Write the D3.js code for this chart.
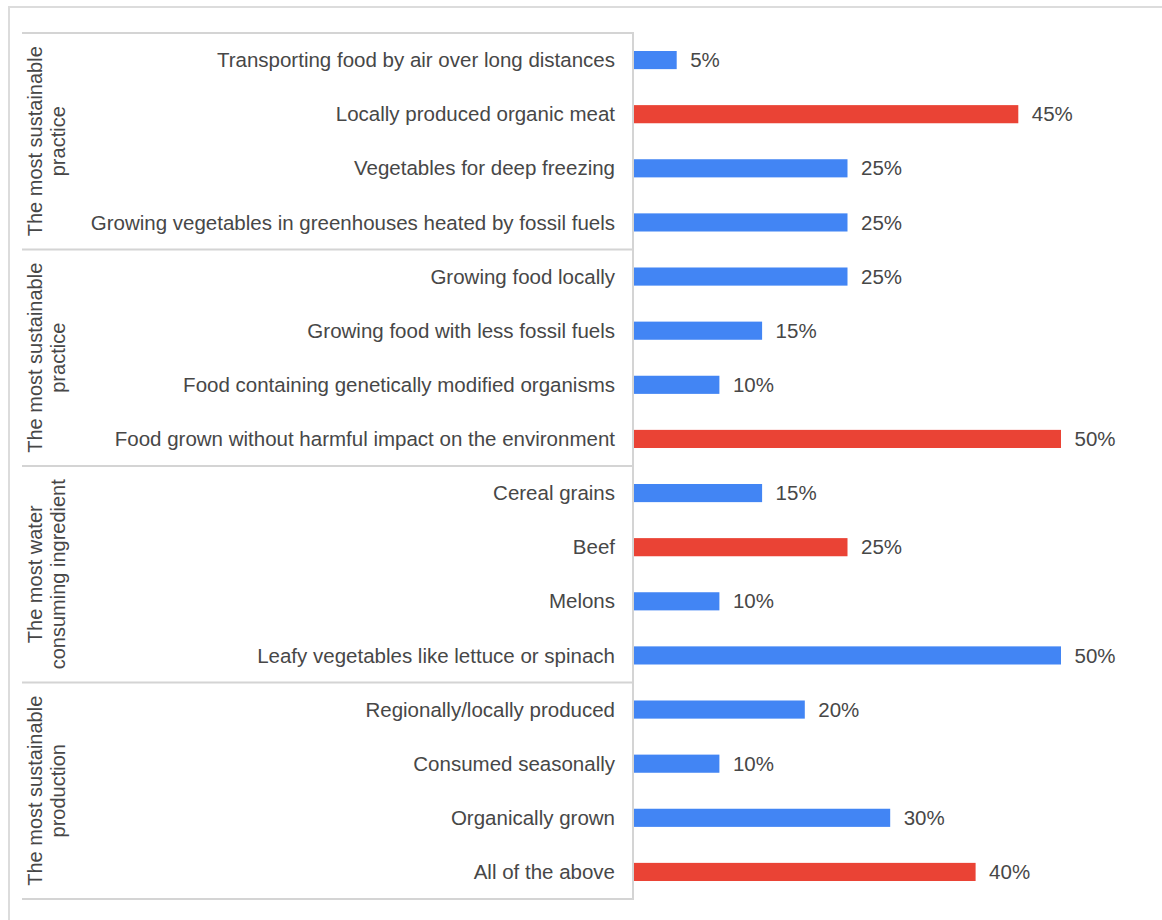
<!DOCTYPE html>
<html>
<head>
<meta charset="utf-8">
<script src="https://cdn.jsdelivr.net/npm/d3@7"></script>
<style>
  html, body { margin: 0; padding: 0; background: #fff; }
  svg { display: block; }
  text { font-family: "Liberation Sans", Arial, sans-serif; fill: #474747; }
</style>
</head>
<body>
<svg id="chart" width="1162" height="920"></svg>
<script>
// Survey answers, one row per option, grouped by question
const categories = [
  "Transporting food by air over long distances",
  "Locally produced organic meat",
  "Vegetables for deep freezing",
  "Growing vegetables in greenhouses heated by fossil fuels",
  "Growing food locally",
  "Growing food with less fossil fuels",
  "Food containing genetically modified organisms",
  "Food grown without harmful impact on the environment",
  "Cereal grains",
  "Beef",
  "Melons",
  "Leafy vegetables like lettuce or spinach",
  "Regionally/locally produced",
  "Consumed seasonally",
  "Organically grown",
  "All of the above"
];
const values = [5, 45, 25, 25, 25, 15, 10, 50, 15, 25, 10, 50, 20, 10, 30, 40];
// 1 marks the answer highlighted in red
const highlighted = [0, 1, 0, 0, 0, 0, 0, 1, 0, 1, 0, 0, 0, 0, 0, 1];
const groupLabels = [
  ["The most sustainable", "practice"],
  ["The most sustainable", "practice"],
  ["The most water", "consuming ingredient"],
  ["The most sustainable", "production"]
];
const groupStarts = [0, 4, 8, 12];
const groupSizes = [4, 4, 4, 4];

(function draw() {
  const svg = d3.select("#chart");
  const blue = "#4285F4", red = "#EA4335", grid = "#d4d4d4";

  // outer frame
  svg.append("rect")
    .attr("x", 9).attr("y", 7)
    .attr("width", 1200).attr("height", 960)
    .attr("fill", "none").attr("stroke", "#dcdcdc").attr("stroke-width", 2);

  const axisX = 633;
  const plotTop = 33, plotBottom = 899;

  const y = d3.scaleBand()
    .domain(d3.range(categories.length))
    .range([plotTop, plotBottom])
    .paddingInner(0.665)
    .paddingOuter(0.3325);

  const x = d3.scaleLinear().domain([0, 50]).range([axisX + 1, 1061]);

  // group boundary lines
  const bounds = groupStarts.map(s => plotTop + s * y.step()).concat([plotBottom]);
  svg.append("g").selectAll("line").data(bounds).join("line")
    .attr("x1", 22).attr("x2", axisX)
    .attr("y1", d => d).attr("y2", d => d)
    .attr("stroke", grid).attr("stroke-width", 2);

  svg.append("line")
    .attr("x1", axisX).attr("x2", axisX)
    .attr("y1", plotTop - 1).attr("y2", plotBottom + 1)
    .attr("stroke", grid).attr("stroke-width", 2);

  // category labels
  svg.append("g").selectAll("text").data(categories).join("text")
    .attr("x", axisX - 18)
    .attr("y", (d, i) => y(i) + y.bandwidth() / 2)
    .attr("dy", "0.35em")
    .attr("text-anchor", "end")
    .attr("font-size", 20.5)
    .text(d => d);

  // group labels, rotated
  groupLabels.forEach((lines, g) => {
    const cy = plotTop + (groupStarts[g] + groupSizes[g] / 2) * y.step();
    const t = svg.append("text")
      .attr("transform", `translate(42,${cy}) rotate(-90)`)
      .attr("text-anchor", "middle")
      .attr("font-size", 20);
    lines.forEach((ln, k) => {
      t.append("tspan").attr("x", 0).attr("y", k * 23).text(ln);
    });
  });

  // bars
  svg.append("g").selectAll("rect").data(values).join("rect")
    .attr("x", x(0))
    .attr("y", (d, i) => y(i))
    .attr("width", d => x(d) - x(0))
    .attr("height", y.bandwidth())
    .attr("fill", (d, i) => highlighted[i] ? red : blue);

  // value labels
  svg.append("g").selectAll("text").data(values).join("text")
    .attr("x", d => x(d) + 13.5)
    .attr("y", (d, i) => y(i) + y.bandwidth() / 2)
    .attr("dy", "0.35em")
    .attr("font-size", 20.5)
    .text(d => d + "%");
})();
</script>
</body>
</html>
